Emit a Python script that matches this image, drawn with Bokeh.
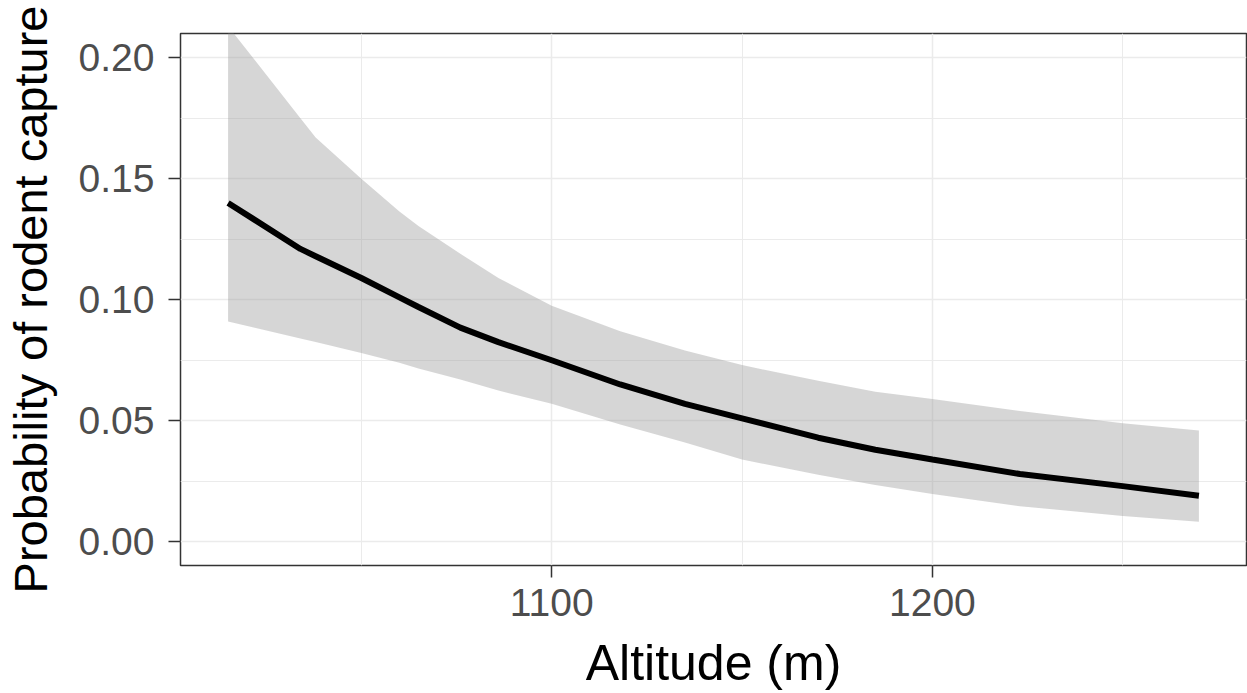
from bokeh.plotting import figure
from bokeh.models import Range1d, FixedTicker, PrintfTickFormatter
from bokeh.embed import file_html
from bokeh.resources import INLINE

# Data
altitude = [1015, 1022, 1034, 1038, 1050, 1060, 1065, 1076, 1086, 1100, 1118, 1135, 1150, 1170, 1185, 1200, 1223, 1250, 1270]
fit = [0.140, 0.133, 0.121, 0.118, 0.109, 0.101, 0.097, 0.0885, 0.0825, 0.075, 0.065, 0.057, 0.051, 0.043, 0.038, 0.034, 0.028, 0.023, 0.019]
upper = [0.213, 0.199, 0.175, 0.167, 0.150, 0.1365, 0.1305, 0.119, 0.109, 0.0975, 0.087, 0.079, 0.073, 0.0665, 0.062, 0.059, 0.054, 0.049, 0.046]
lower = [0.091, 0.0884, 0.084, 0.0825, 0.078, 0.074, 0.0716, 0.067, 0.0625, 0.057, 0.0485, 0.041, 0.034, 0.0277, 0.0235, 0.0197, 0.0147, 0.0107, 0.0083]

x_ticks = [1100, 1200]
x_minor = [1050, 1150, 1250]
y_ticks = [0.0, 0.05, 0.10, 0.15, 0.20]
y_minor = [0.025, 0.075, 0.125, 0.175]

FONT = "Liberation Sans"

p = figure(width=1247, height=693, output_backend="svg", toolbar_location=None,
           x_range=Range1d(1002.5, 1282.5), y_range=Range1d(-0.0098, 0.2100),
           min_border_left=179, min_border_right=1, min_border_top=33, min_border_bottom=128)

p.background_fill_color = "white"
p.border_fill_color = "white"
p.outline_line_color = "#333333"
p.outline_line_width = 1.5

p.varea(x=altitude, y1=lower, y2=upper, fill_color="#999999", fill_alpha=0.4)
p.line(x=altitude, y=fit, line_color="black", line_width=6)

p.xaxis.ticker = FixedTicker(ticks=x_ticks, minor_ticks=x_minor)
p.yaxis.ticker = FixedTicker(ticks=y_ticks, minor_ticks=y_minor)
p.yaxis.formatter = PrintfTickFormatter(format="%.2f")

for g in (p.xgrid, p.ygrid):
    g.grid_line_color = "#EBEBEB"
    g.grid_line_width = 1.5
    g.minor_grid_line_color = "#EBEBEB"
    g.minor_grid_line_width = 1

for ax in (p.xaxis, p.yaxis):
    ax.axis_line_color = None
    ax.major_tick_line_color = "#333333"
    ax.major_tick_line_width = 1.5
    ax.major_tick_in = 0
    ax.major_tick_out = 12
    ax.minor_tick_line_color = None
    ax.major_label_text_font = FONT
    ax.major_label_text_font_size = "39px"
    ax.major_label_text_color = "#4D4D4D"
    ax.axis_label_text_font = FONT
    ax.axis_label_text_font_style = "normal"
    ax.axis_label_text_color = "black"

p.xaxis.axis_label_text_font_size = "50px"
p.yaxis.axis_label_text_font_size = "47px"

p.xaxis.axis_label = "Altitude (m)"
p.yaxis.axis_label = "Probability of rodent capture"
p.xaxis.major_label_standoff = 11
p.yaxis.major_label_standoff = 14
p.xaxis.axis_label_standoff = 16
p.yaxis.axis_label_standoff = 19

open("out.html", "w").write(file_html(p, INLINE))
